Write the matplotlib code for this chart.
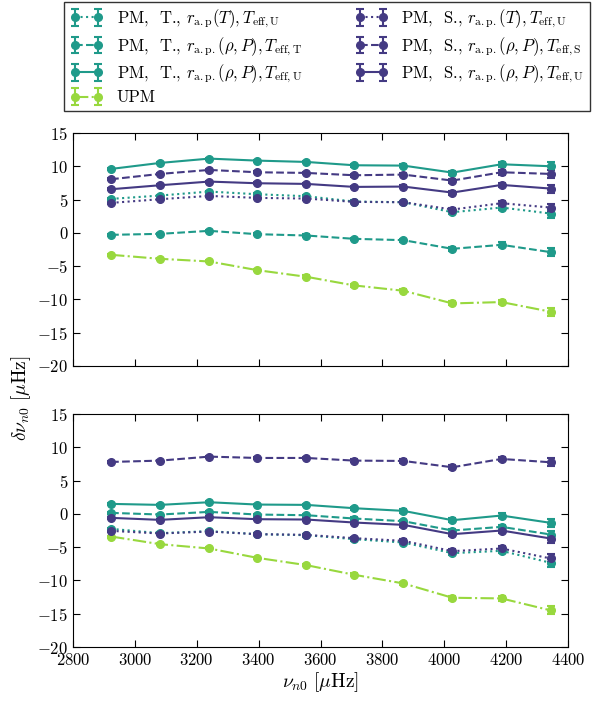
import numpy as np
import matplotlib
matplotlib.use('Agg')
import matplotlib.pyplot as plt

plt.rcParams['font.family'] = ['cmr10', 'DejaVu Serif']
plt.rcParams['mathtext.fontset'] = 'cm'
plt.rcParams['axes.formatter.use_mathtext'] = True
plt.rcParams['axes.unicode_minus'] = True

nu = np.array([2923, 3081, 3240, 3395, 3554, 3709, 3868, 4026, 4185, 4344])

# top panel
top_T_T_U = [5.1, 5.6, 6.2, 5.8, 5.5, 4.7, 4.6, 3.1, 3.8, 2.9]
top_T_rp_T = [-0.3, -0.15, 0.3, -0.2, -0.4, -0.9, -1.1, -2.4, -1.8, -2.9]
top_T_rp_U = [9.6, 10.5, 11.15, 10.85, 10.65, 10.15, 10.1, 9.05, 10.3, 10.0]
top_UPM = [-3.3, -3.9, -4.3, -5.6, -6.6, -7.9, -8.7, -10.6, -10.4, -11.85]
top_S_T_U = [4.5, 5.05, 5.55, 5.25, 5.15, 4.65, 4.6, 3.5, 4.45, 3.8]
top_S_rp_S = [8.05, 8.85, 9.45, 9.1, 9.0, 8.65, 8.75, 7.85, 9.1, 8.85]
top_S_rp_U = [6.55, 7.15, 7.7, 7.45, 7.35, 6.9, 6.95, 6.05, 7.2, 6.65]

# bottom panel
bot_T_T_U = [-2.25, -2.9, -2.6, -3.05, -3.2, -3.8, -4.3, -5.9, -5.55, -7.35]
bot_T_rp_T = [0.15, -0.1, 0.3, -0.1, -0.2, -0.7, -1.1, -2.5, -1.95, -3.1]
bot_T_rp_U = [1.5, 1.35, 1.75, 1.4, 1.35, 0.85, 0.45, -0.95, -0.25, -1.35]
bot_UPM = [-3.4, -4.55, -5.2, -6.6, -7.7, -9.15, -10.45, -12.6, -12.7, -14.5]
bot_S_T_U = [-2.55, -2.95, -2.65, -3.05, -3.15, -3.65, -4.05, -5.6, -5.2, -6.7]
bot_S_rp_S = [7.8, 8.0, 8.6, 8.4, 8.4, 8.0, 7.95, 7.0, 8.25, 7.75]
bot_S_rp_U = [-0.6, -0.9, -0.5, -0.8, -0.85, -1.3, -1.65, -3.05, -2.5, -3.7]

err = [0.15, 0.15, 0.15, 0.15, 0.2, 0.2, 0.25, 0.3, 0.35, 0.6]

labels = [
    r'PM,  T., $r_{\rm a.p}(T), T_{\rm eff,U}$',
    r'PM,  T., $r_{\rm a.p.}(\rho,P), T_{\rm eff,T}$',
    r'PM,  T., $r_{\rm a.p.}(\rho,P), T_{\rm eff,U}$',
    'UPM',
    r'PM,  S., $r_{\rm a.p.}(T), T_{\rm eff,U}$',
    r'PM,  S., $r_{\rm a.p.}(\rho,P), T_{\rm eff,S}$',
    r'PM,  S., $r_{\rm a.p.}(\rho,P), T_{\rm eff,U}$',
]

teal = '#1f9a8a'
purple = '#443a83'
lime = '#98d83e'
colors = [teal, teal, teal, lime, purple, purple, purple]
styles = [':', '--', '-', '-.', ':', '--', '-']

fig = plt.figure(figsize=(5.95, 7.01), dpi=100)
ax1 = fig.add_axes([0.1227, 0.4779, 0.832, 0.3324])
ax2 = fig.add_axes([0.1227, 0.0770, 0.832, 0.3324], sharex=ax1)

panels = [
    (ax1, [top_T_T_U, top_T_rp_T, top_T_rp_U, top_UPM, top_S_T_U, top_S_rp_S, top_S_rp_U]),
    (ax2, [bot_T_T_U, bot_T_rp_T, bot_T_rp_U, bot_UPM, bot_S_T_U, bot_S_rp_S, bot_S_rp_U]),
]

handles = []
for ax, series in panels:
    for vals, c, ls, lab in zip(series, colors, styles, labels):
        h = ax.errorbar(nu, vals, yerr=err, color=c, ls=ls, lw=1.5,
                        marker='o', ms=5.5, capsize=3, capthick=1.5,
                        elinewidth=1.5, label=lab)
        if ax is ax1:
            handles.append(h)
    ax.set_xlim(2800, 4400)
    ax.set_ylim(-20, 15)
    ax.set_yticks(np.arange(-20, 16, 5))
    ax.set_xticks(np.arange(2800, 4401, 200))
    ax.tick_params(direction='in', top=True, right=True, labelsize=12, length=5)

ax1.tick_params(labelbottom=False)
ax2.set_xlabel(r'$\nu_{n0}\ [\mu{\rm Hz}]$', fontsize=14, labelpad=2)
fig.text(0.035, 0.432, r'$\delta\nu_{n0}\ [\mu{\rm Hz}]$', fontsize=14,
         rotation=90, ha='center', va='center')

leg = fig.legend(handles=handles, loc='upper left', ncol=2, numpoints=2,
                 bbox_to_anchor=(0.1076, 0.839, 0.884, 0.158), mode='expand',
                 borderaxespad=0, fontsize=12, fancybox=False, edgecolor='black',
                 handlelength=2.0, labelspacing=0.3, borderpad=0.35)
leg.get_frame().set_linewidth(1.0)

fig.savefig('out.png', dpi=100)
